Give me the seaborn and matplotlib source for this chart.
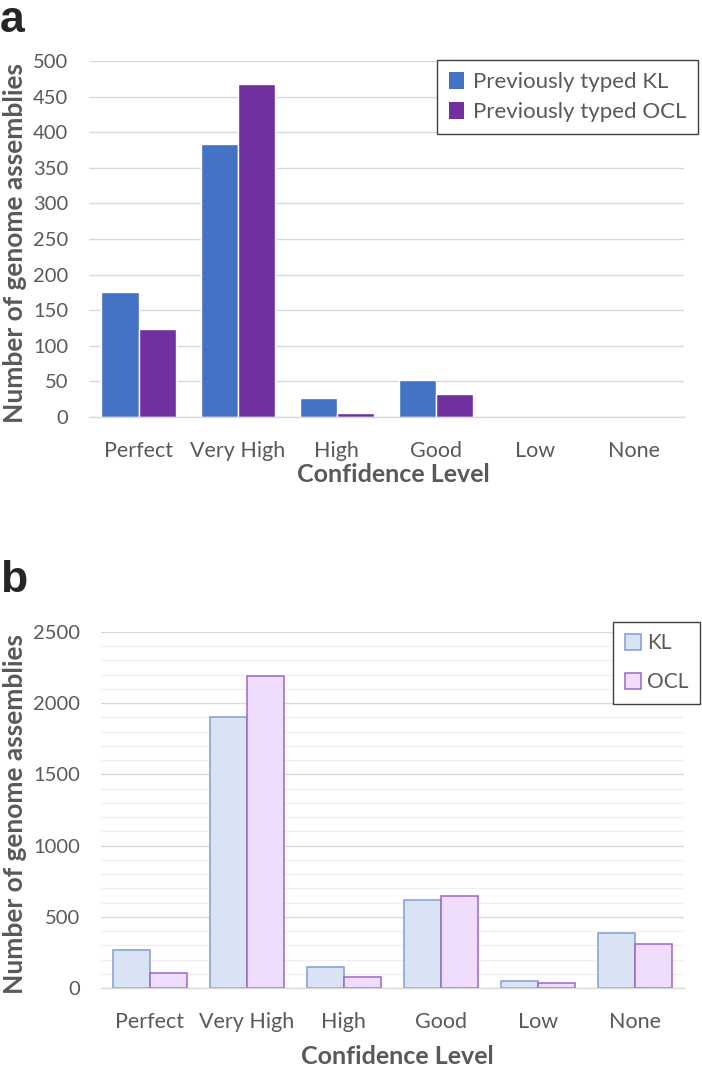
import matplotlib
matplotlib.use("Agg")
import matplotlib.pyplot as plt
from matplotlib.patches import Patch
from matplotlib.ticker import MultipleLocator
import pandas as pd
import seaborn as sns

# valori
livelli = ["Perfect", "Very High", "High", "Good", "Low", "None"]
kl_tipizzati = [175, 384, 27, 52, 0, 0]
ocl_tipizzati = [123, 468, 5, 32, 0, 0]
kl_tutti = [269, 1900, 145, 618, 47, 384]
ocl_tutti = [105, 2191, 80, 648, 35, 311]

serie_a = ["Previously typed KL", "Previously typed OCL"]
serie_b = ["KL", "OCL"]

df_a = pd.DataFrame({"Livello": livelli, serie_a[0]: kl_tipizzati, serie_a[1]: ocl_tipizzati})
df_a = df_a.melt(id_vars="Livello", var_name="Serie", value_name="Conteggio")
df_b = pd.DataFrame({"Livello": livelli, serie_b[0]: kl_tutti, serie_b[1]: ocl_tutti})
df_b = df_b.melt(id_vars="Livello", var_name="Serie", value_name="Conteggio")

sns.set_theme(style="white")
plt.rcParams["font.family"] = ["Lato", "DejaVu Sans"]

GRIGIO_TESTO = "#595959"
GRIGIO_GRIGLIA = "#D9D9D9"

fig = plt.figure(figsize=(7.02, 10.66), dpi=100)
ax1 = fig.add_axes([89 / 702, 1 - 417 / 1066, 595 / 702, 356 / 1066])
ax2 = fig.add_axes([101 / 702, 1 - 988 / 1066, 583 / 702, 356 / 1066])


def stile_assi(ax, ymax, passo):
    ax.set_ylim(0, ymax)
    ax.yaxis.set_major_locator(MultipleLocator(passo))
    ax.set_axisbelow(True)
    ax.yaxis.grid(True, which="major", color=GRIGIO_GRIGLIA, linewidth=1)
    ax.xaxis.grid(False)
    for lato in ["top", "right", "left"]:
        ax.spines[lato].set_visible(False)
    ax.spines["bottom"].set_color(GRIGIO_GRIGLIA)
    ax.spines["bottom"].set_linewidth(1)
    ax.tick_params(axis="both", length=0, labelcolor=GRIGIO_TESTO)
    ax.tick_params(axis="x", pad=17, labelsize=15.5)
    ax.tick_params(axis="y", pad=15, labelsize=14.5)
    ax.set_ylabel("Number of genome assemblies", fontsize=19, fontweight="bold",
                  color=GRIGIO_TESTO, va="center")
    ax.set_xlabel("Confidence Level", fontsize=18, fontweight="bold", color=GRIGIO_TESTO)


# ------------------------------------------------------------------
# PANNELLO a
# ------------------------------------------------------------------
colori_a = ["#4472C4", "#7030A0"]
sns.barplot(data=df_a, x="Livello", y="Conteggio", hue="Serie", order=livelli,
            hue_order=serie_a, palette=colori_a, width=0.75, saturation=1,
            legend=False, ax=ax1)
stile_assi(ax1, 500, 50)
ax1.yaxis.set_label_coords((15 - 89) / 595, 0.49)
ax1.xaxis.set_label_coords(0.511, -0.128)
maniglie_a = [Patch(facecolor=c, edgecolor="none", label=s) for c, s in zip(colori_a, serie_a)]
leg_a = ax1.legend(handles=maniglie_a, loc="upper right", bbox_to_anchor=(1.024, 1.003),
                   borderaxespad=0, fontsize=16, handlelength=0.65, handleheight=0.75,
                   handletextpad=0.4, labelspacing=0.45, borderpad=0.55, fancybox=False,
                   framealpha=1, edgecolor="#404040")
leg_a.get_frame().set_linewidth(1)
for t in leg_a.get_texts():
    t.set_color(GRIGIO_TESTO)

# ------------------------------------------------------------------
# PANNELLO b
# ------------------------------------------------------------------
riempimento_b = ["#DAE3F3", "#F0DCFD"]
bordi_b = ["#7F9ED6", "#9A66C9"]
sns.barplot(data=df_b, x="Livello", y="Conteggio", hue="Serie", order=livelli,
            hue_order=serie_b, palette=riempimento_b, width=0.76, saturation=1,
            legend=False, ax=ax2)
for contenitore, bordo in zip(ax2.containers, bordi_b):
    for barra in contenitore:
        barra.set_edgecolor(bordo)
        barra.set_linewidth(1.1)
stile_assi(ax2, 2500, 500)
ax2.yaxis.set_minor_locator(MultipleLocator(100))
ax2.yaxis.grid(True, which="minor", color="#EFEFEF", linewidth=0.9)
ax2.tick_params(axis="y", which="minor", length=0)
ax2.yaxis.set_label_coords((15 - 101) / 583, 0.49)
ax2.xaxis.set_label_coords(0.508, -0.16)
maniglie_b = [Patch(facecolor=f, edgecolor=e, linewidth=1.1, label=s)
              for f, e, s in zip(riempimento_b, bordi_b, serie_b)]
leg_b = ax2.legend(handles=maniglie_b, loc="upper right", bbox_to_anchor=(1.027, 1.028),
                   borderaxespad=0, fontsize=15, handlelength=0.75, handleheight=0.8,
                   handletextpad=0.3, labelspacing=0.9, borderpad=0.55, fancybox=False,
                   framealpha=1, edgecolor="#404040")
leg_b.get_frame().set_linewidth(1)
for t in leg_b.get_texts():
    t.set_color(GRIGIO_TESTO)

# etichette dei pannelli
fig.text(0.0, 1.0, "a", fontsize=32, fontweight="bold", va="top", ha="left",
         family=["Liberation Sans", "DejaVu Sans"])
fig.text(0.0, 1 - 560 / 1066, "b", fontsize=32, fontweight="bold", va="top", ha="left",
         family=["Liberation Sans", "DejaVu Sans"])

fig.savefig("out.png", dpi=100, facecolor="white")
